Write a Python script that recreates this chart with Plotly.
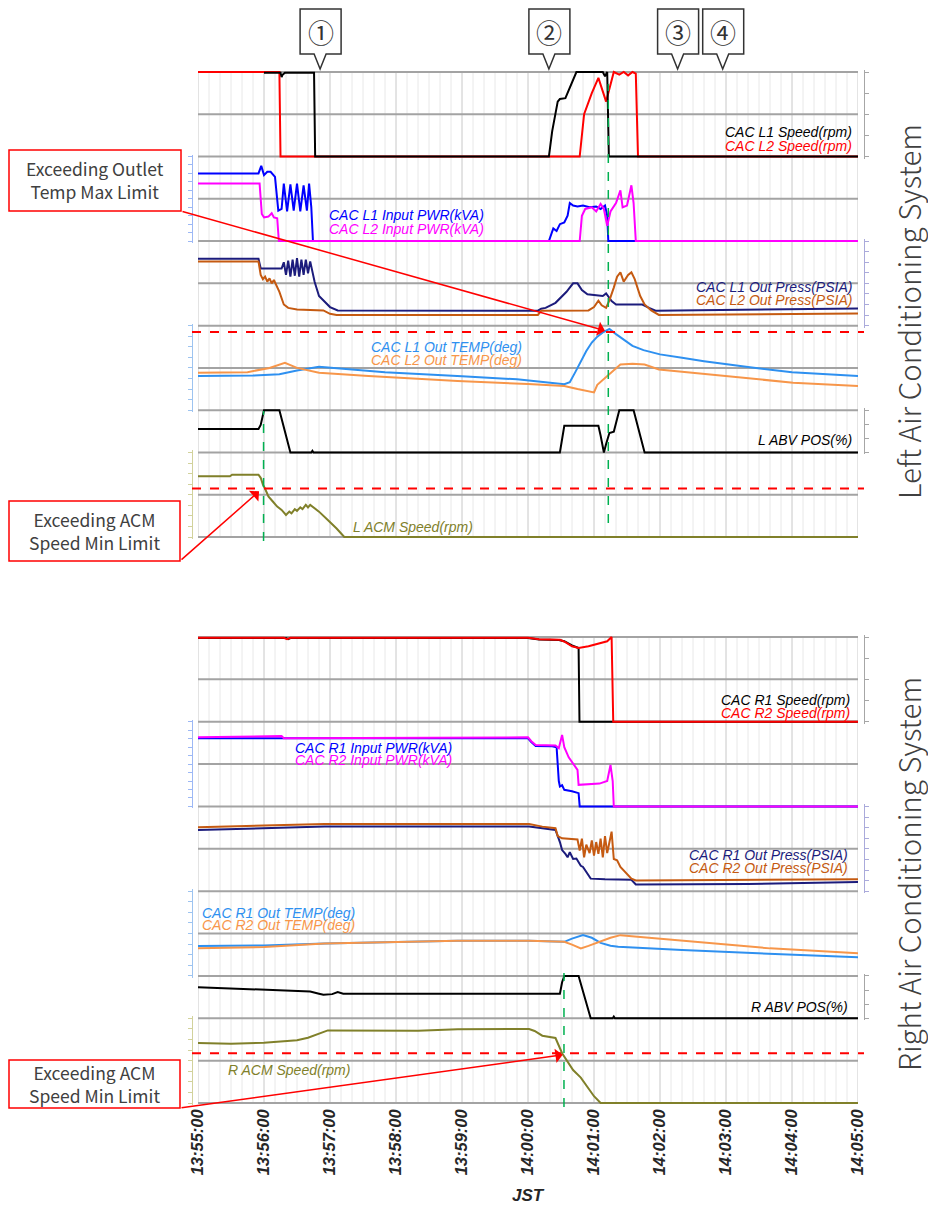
import plotly.graph_objects as go
import pandas as pd

# ---------------- DATA (time = seconds after 13:55:00, value = % of panel scale) ----------------
BASE = pd.Timestamp("2000-01-01 13:55:00")
X_START, X_END = 0, 600

# Left system
L1_SPEED_T = [60, 75, 76, 77, 79, 105.5, 106.5, 319, 322, 325, 327, 329, 334, 344, 368, 370, 372, 373.5, 600]
L1_SPEED_V = [99, 99, 94, 97, 99, 99, 0, 0, 30, 50, 65, 68, 69, 100, 100, 95, 100, 0, 0]
L2_SPEED_T = [0, 74, 75, 347, 351, 358, 364, 371, 378, 383, 387, 391, 395, 398, 400, 600]
L2_SPEED_V = [100, 100, 0, 0, 50, 75, 93, 65, 100, 97, 100, 96, 100, 98, 0, 0]

L1_PWR_T = [0, 55, 57.5, 60, 63, 66, 70, 73, 76, 78, 81, 84, 87, 90, 93, 96, 99, 101, 103, 104.5,
            319, 321, 323, 326, 329, 333, 336, 338, 341, 345, 350, 356, 362, 366, 370, 372, 373, 600]
L1_PWR_V = [80, 80, 89, 78, 82, 82, 76, 36, 38, 68, 35, 67, 36, 68, 35, 66, 36, 68, 40, 0,
            0, 8, 15, 12, 20, 22, 30, 45, 42, 41, 42, 40, 41, 38, 42, 30, 0, 0]
L2_PWR_T = [0, 56, 58, 60, 64, 67, 69, 72, 73.5, 347, 349, 352, 358, 362, 366, 369, 372, 375, 380,
            384, 386, 390, 394, 396, 398, 600]
L2_PWR_V = [68, 68, 32, 28, 29, 33, 28, 27, 0, 0, 30, 38, 40, 35, 44, 38, 18, 35, 45,
            60, 40, 42, 66, 45, 0, 0]

L1_PRESS_T = [0, 55, 57, 76, 78, 80, 82, 84, 86, 88, 90, 92, 94, 96, 98, 100, 102, 104, 106, 110,
              114, 120, 127, 309, 312, 316, 325, 335, 341, 345, 349, 354, 362, 368, 371, 373, 376, 380,
              404, 410, 416, 600]
L1_PRESS_V = [79, 79, 67.5, 67.5, 75, 60, 77, 58, 78, 59, 80, 58, 78, 60, 78, 62, 76, 62, 52, 35,
              30, 22, 18, 17.7, 20, 21, 27, 40, 50, 50, 42, 37, 36, 35, 38, 34, 29, 25,
              25, 21, 17.7, 20.4]
L2_PRESS_T = [0, 55, 57, 59, 61, 63, 65, 67, 69, 71, 74, 78, 82, 90, 114, 120, 126, 309, 312, 355,
              360, 364, 367, 371, 374, 378, 381, 384, 387, 391, 394, 397, 402, 406, 412, 419, 600]
L2_PRESS_V = [75.8, 75.8, 60, 55, 58, 52, 56, 50, 54, 48, 40, 25, 21, 19, 18, 14, 12.6, 12.6, 17.7, 18,
              22, 29.5, 24, 21, 30, 45, 58, 63, 52, 60, 63, 55, 35, 25, 18, 12.6, 14.5]

L1_TEMP_T = [0, 50, 74, 90, 110, 130, 170, 240, 290, 333, 338, 343, 348, 353, 358, 363, 368, 374,
             380, 386, 395, 405, 420, 440, 460, 500, 540, 600]
L1_TEMP_V = [40.4, 41, 42.4, 47, 51.4, 49, 45, 40, 36.5, 30.6, 33, 45, 58, 70, 80, 87, 92, 96,
             90, 84, 76, 71, 66, 62, 58, 51, 45, 40.4]
L2_TEMP_T = [0, 45, 65, 79, 90, 110, 155, 236, 300, 333, 345, 355, 360, 363, 368, 373, 378, 384,
             395, 406, 419, 480, 541, 600]
L2_TEMP_V = [44.3, 45, 50, 56, 50, 44.3, 40.4, 34.5, 31, 28.6, 25, 22, 21, 30, 36, 41, 48, 54,
             55, 54, 48.2, 40.4, 32.5, 28.6]

L_ABV_T = [0, 55, 57, 60, 74, 84, 103, 104, 105, 329, 333, 364, 366, 369, 371, 374, 378, 383, 396, 406, 600]
L_ABV_V = [55.7, 55.7, 65, 100, 100, 0, 0, 4, 0, 0, 63, 63, 40, 0, 20, 46, 49, 100, 100, 0, 0]

L_ACM_T = [0, 29, 31, 55, 57, 59, 61, 64, 68, 72, 76, 80, 83, 85, 88, 90, 93, 95, 98, 100, 102,
           110, 118, 126, 133, 600]
L_ACM_V = [71.8, 71.8, 73.7, 73.7, 70, 62, 57, 48, 42, 36, 32, 26, 30, 28, 33, 31, 35, 33, 38, 35, 38,
           30, 20, 10, 0, 0]

# Right system
R1_SPEED_T = [0, 80, 82, 84, 300, 310, 328, 333, 340, 346, 346.8, 600]
R1_SPEED_V = [98.8, 98.8, 97.5, 98.8, 98.8, 97, 96.5, 95, 90, 87, 0, 0]
R2_SPEED_T = [0, 78, 81, 84, 300, 310, 329, 334, 340, 346, 355, 365, 372, 376, 377.5, 600]
R2_SPEED_V = [99, 99, 97.5, 99, 99, 97.3, 96.8, 94, 89, 87, 89, 92, 95, 100, 0, 0]

R1_PWR_T = [0, 60, 62, 300, 303, 307, 322, 326, 328, 329, 331, 333, 340, 346, 347, 600]
R1_PWR_V = [80.4, 80.4, 81, 80.4, 76, 71.4, 71, 70, 30, 23.5, 25, 19.6, 18, 15.7, 0, 0]
R2_PWR_T = [0, 60, 76, 78, 300, 303, 307, 325, 328, 331, 333, 337, 341, 345, 346, 355, 365, 372,
            375, 377, 378, 600]
R2_PWR_V = [81.6, 82.5, 83, 80.5, 81.6, 77, 72.5, 72, 68.7, 84.4, 70, 58, 51, 43.2, 25.5, 26, 27, 30,
            49, 30, 0, 0]

R1_PRESS_T = [0, 115, 301, 313, 325, 329, 331, 334, 336, 338, 341, 344, 348, 350, 354, 357, 370,
              394, 398, 500, 600]
R1_PRESS_V = [72.3, 76.2, 76.2, 74.3, 72.3, 58, 48.5, 44, 40, 46, 38, 38.6, 30, 28.6, 20, 14.8, 14,
              13.5, 8, 8.5, 10.7]
R2_PRESS_T = [0, 115, 301, 313, 325, 327, 331, 345, 347, 349, 351, 353, 356, 358, 360, 362, 364, 366,
              368, 370, 372, 374, 376, 378, 381, 384, 390, 394, 398, 500, 600]
R2_PRESS_V = [75.5, 79.4, 79.4, 76.2, 74.3, 65, 62.4, 61, 48, 62, 40, 55, 45, 60, 42, 58, 44, 62,
              40, 65, 45, 60, 70.2, 38, 36.5, 28.6, 20, 14.8, 12.7, 13, 14]

R1_TEMP_T = [0, 60, 115, 236, 301, 333, 340, 350, 358, 366, 375, 382, 440, 520, 600]
R1_TEMP_V = [35.2, 36, 38.3, 41.4, 41.4, 40.2, 44, 48.1, 45, 39, 35.5, 34.4, 30.5, 26.6, 21.9]
R2_TEMP_T = [0, 60, 115, 236, 301, 333, 340, 348, 355, 365, 375, 384, 419, 460, 520, 600]
R2_TEMP_V = [32.5, 34, 38.3, 41.4, 41.4, 40.2, 37, 32.5, 35.5, 40, 45, 48.1, 44.2, 40, 32.5, 26.6]

R_ABV_T = [0, 74, 102, 110, 114, 122, 127, 132, 329, 331, 333, 346, 357, 377, 378, 379, 600]
R_ABV_V = [73.5, 67.2, 63.2, 58, 55.5, 57, 61.8, 57.8, 57.8, 85, 100, 100, 0, 0, 4, 0, 0]

R_ACM_T = [0, 30, 60, 74, 90, 100, 118, 200, 236, 301, 306, 313, 325, 331, 341, 348, 354, 360, 366, 600]
R_ACM_V = [70.7, 70, 71, 72.6, 74, 77, 85.7, 85.4, 87, 87.4, 85, 79.4, 76.7, 58.8, 38.9, 30, 19, 8, 0, 0]

# Limits (panel %), event markers and callouts
L_TEMP_MAX_LIMIT = 92.6
L_ACM_MIN_LIMIT = 57.3
R_ACM_MIN_LIMIT = 58.8
EVENT_LABELS = ["①", "②", "③", "④"]
EVENT_TIMES = [111, 319, 436, 477]
LEFT_MARK_TIMES = [59.6, 373]
RIGHT_MARK_TIME = 332.7
ARROW_TIPS = [(370, 94), (55.5, 54), (331.5, 56.8)]   # (time, value)
BOX_TEXTS = ["Exceeding Outlet<br>Temp Max Limit", "Exceeding ACM<br>Speed Min Limit",
             "Exceeding ACM<br>Speed Min Limit"]
TICK_LABEL_FMT = "%H:%M:%S"
X_TITLE = "JST"
GROUP_TITLES = ["Left Air Conditioning System", "Right Air Conditioning System"]


def T(secs):
    return [(BASE + pd.Timedelta(seconds=s)).strftime("%Y-%m-%d %H:%M:%S.%f")[:-3] for s in secs]


# ---------------- STYLE / LAYOUT ----------------
BLACK, RED = "#000000", "#ff0000"
BLUE, MAGENTA = "#0000ff", "#ff00ff"
NAVY, BROWN = "#1c1c7c", "#c55a11"
SKY, ORANGE = "#2e90f0", "#f7964a"
OLIVE = "#80802a"
GREEN = "#00b050"

OFF = 8                      # page body margin of the html
W, H = 936 - 2 * OFF, 1213 - 2 * OFF
PL, PR = 192, 864            # page px of the plot area
PT, PB = 70, 1105
X0PX, X1PX = 198, 858
GROUP_TOP = [72, 637]
GROUP_BOT = [537, 1103]
PAD = 2


def pxx(px):
    return (px - PL) / (PR - PL)


def pxy(py):
    return (PB - py) / (PB - PT)


def line_y(g, k):
    return GROUP_TOP[g] + k * (GROUP_BOT[g] - GROUP_TOP[g]) / 11.0


PANELS = [
    (0, 0, 2, "right", "#a6a6a6", 4, [(L2_SPEED_T, L2_SPEED_V, RED), (L1_SPEED_T, L1_SPEED_V, BLACK)]),
    (0, 2, 4, "left", "#9db8f5", 10, [(L1_PWR_T, L1_PWR_V, BLUE), (L2_PWR_T, L2_PWR_V, MAGENTA)]),
    (0, 4, 6, "right", "#aaaadb", 8, [(L1_PRESS_T, L1_PRESS_V, NAVY), (L2_PRESS_T, L2_PRESS_V, BROWN)]),
    (0, 6, 8, "left", "#9ec4f0", 8, [(L1_TEMP_T, L1_TEMP_V, SKY), (L2_TEMP_T, L2_TEMP_V, ORANGE)]),
    (0, 8, 9, "right", "#a6a6a6", 3, [(L_ABV_T, L_ABV_V, BLACK)]),
    (0, 9, 11, "left", "#d2d29c", 8, [(L_ACM_T, L_ACM_V, OLIVE)]),
    (1, 0, 2, "right", "#a6a6a6", 4, [(R1_SPEED_T, R1_SPEED_V, BLACK), (R2_SPEED_T, R2_SPEED_V, RED)]),
    (1, 2, 4, "left", "#9db8f5", 10, [(R1_PWR_T, R1_PWR_V, BLUE), (R2_PWR_T, R2_PWR_V, MAGENTA)]),
    (1, 4, 6, "right", "#aaaadb", 8, [(R1_PRESS_T, R1_PRESS_V, NAVY), (R2_PRESS_T, R2_PRESS_V, BROWN)]),
    (1, 6, 8, "left", "#9ec4f0", 8, [(R1_TEMP_T, R1_TEMP_V, SKY), (R2_TEMP_T, R2_TEMP_V, ORANGE)]),
    (1, 8, 9, "right", "#a6a6a6", 3, [(R_ABV_T, R_ABV_V, BLACK)]),
    (1, 9, 11, "left", "#d2d29c", 8, [(R_ACM_T, R_ACM_V, OLIVE)]),
]

fig = go.Figure()
layout = dict(
    width=W, height=H, template="none",
    margin=dict(l=PL - OFF, r=W - (PR - OFF), t=PT - OFF, b=H - (PB - OFF), pad=0),
    paper_bgcolor="white", plot_bgcolor="rgba(0,0,0,0)",
    font=dict(family="Liberation Sans", color="#222222"),
    showlegend=False,
)

x_dom = [pxx(X0PX), pxx(X1PX)]
layout["xaxis"] = dict(
    type="date", domain=x_dom, anchor="y12",
    range=T([X_START, X_END]), tick0=T([0])[0], dtick=60000,
    tickformat=TICK_LABEL_FMT, tickangle=-90,
    tickfont=dict(family="Liberation Sans", size=16.5, color="#262626", style="italic", weight="bold"),
    showgrid=False, showline=False, zeroline=False, ticks="", automargin=False, fixedrange=True,
)

panel_geo = []
for i, (g, k0, k1, side, acol, nint, series) in enumerate(PANELS, start=1):
    top, bot = line_y(g, k0), line_y(g, k1)
    h = bot - top
    panel_geo.append((top, bot, h))
    name = "yaxis" if i == 1 else "yaxis%d" % i
    layout[name] = dict(
        domain=[pxy(bot + PAD), pxy(top - PAD)],
        range=[-PAD / h * 100, 100 + PAD / h * 100],
        anchor="free", position=0 if side == "left" else 1, side=side,
        showline=True, linecolor=acol, linewidth=1,
        ticks="outside", ticklen=4, tickwidth=1, tickcolor=acol,
        tickmode="linear", tick0=0, dtick=100.0 / nint,
        showticklabels=False, showgrid=False, zeroline=False,
        automargin=False, fixedrange=True,
    )
    for (ts, vs, col) in series:
        fig.add_trace(go.Scatter(
            x=T(ts), y=vs, mode="lines", line=dict(color=col, width=2),
            xaxis="x", yaxis="y" if i == 1 else "y%d" % i, hoverinfo="skip", showlegend=False))

shapes = []
# vertical time grid (10 s minor, 1 min major), drawn under everything
for g in (0, 1):
    for s in range(X_START, X_END + 1, 10):
        xt = T([s])[0]
        major = (s % 60 == 0)
        shapes.append(dict(type="line", xref="x", yref="paper", x0=xt, x1=xt,
                           y0=pxy(GROUP_BOT[g]), y1=pxy(GROUP_TOP[g]),
                           line=dict(color="#c8c8c8" if major else "#e8e8e8", width=1), layer="below"))
# horizontal panel grid lines
for g in (0, 1):
    for k in range(12):
        yy = pxy(line_y(g, k))
        shapes.append(dict(type="line", xref="paper", yref="paper", x0=x_dom[0], x1=x_dom[1],
                           y0=yy, y1=yy, line=dict(color="#a3a3a3", width=2), layer="below"))

# limit lines
for axid, lim in (("y4", L_TEMP_MAX_LIMIT), ("y6", L_ACM_MIN_LIMIT), ("y12", R_ACM_MIN_LIMIT)):
    shapes.append(dict(type="line", xref="paper", yref=axid, x0=0, x1=1, y0=lim, y1=lim,
                       line=dict(color=RED, width=2, dash="dash")))

# green event markers
green_spans = [(LEFT_MARK_TIMES[0], 411, 541), (LEFT_MARK_TIMES[1], 84, 523), (RIGHT_MARK_TIME, 973, 1107)]
for t, ya, yb in green_spans:
    xt = T([t])[0]
    shapes.append(dict(type="line", xref="x", yref="paper", x0=xt, x1=xt, y0=pxy(yb), y1=pxy(ya),
                       line=dict(color=GREEN, width=1.5, dash="dash")))

# numbered callouts above the chart
annotations = []
for lab, t in zip(EVENT_LABELS, EVENT_TIMES):
    xt = T([t])[0]
    shapes.append(dict(type="path", xref="x", yref="paper", xsizemode="pixel", ysizemode="pixel",
                       xanchor=xt, yanchor=pxy(69),
                       path="M -20,60 L 21,60 L 21,15 L 6,15 L 0,0 L -6,15 L -20,15 Z",
                       line=dict(color="#333333", width=1.5), fillcolor="white"))
    annotations.append(dict(text=lab, x=xt, y=pxy(31.5), xref="x", yref="paper", showarrow=False,
                            xshift=0.5, font=dict(family="Noto Sans CJK JP", size=26, color="#333333"),
                            xanchor="center", yanchor="middle"))

# red annotation boxes with arrows
BOXES = [(9, 150, 181, 211), (9, 501, 180, 561), (9, 1060, 180, 1108)]
TIP_AXES = [("y4", 3), ("y6", 5), ("y12", 11)]
for (bx0, by0, bx1, by1), txt, (tt, tv), (axid, pidx) in zip(BOXES, BOX_TEXTS, ARROW_TIPS, TIP_AXES):
    shapes.append(dict(type="rect", xref="paper", yref="paper", x0=pxx(bx0), x1=pxx(bx1),
                       y0=pxy(by1), y1=pxy(by0), line=dict(color=RED, width=1.5), fillcolor="white",
                       layer="above"))
    annotations.append(dict(text=txt, x=pxx((bx0 + bx1) / 2), y=pxy((by0 + by1) / 2), xref="paper",
                            yref="paper", showarrow=False, align="center", xanchor="center",
                            yanchor="middle",
                            font=dict(family="Noto Sans CJK JP", size=17.5, color="#404040")))
    top, bot, h = panel_geo[pidx]
    tip_px = X0PX + (tt - X_START) / (X_END - X_START) * (X1PX - X0PX)
    tip_py = bot - tv / 100.0 * h
    annotations.append(dict(text="", x=T([tt])[0], y=tv, xref="x", yref=axid, showarrow=True,
                            axref="pixel", ayref="pixel", ax=bx1 - tip_px, ay=by1 - tip_py,
                            arrowhead=1, arrowsize=1.6, arrowwidth=1.5, arrowcolor=RED))

# in-panel series labels
LABELS = [
    ("CAC L1 Speed(rpm)", BLACK, "right", 854, 132), ("CAC L2 Speed(rpm)", RED, "right", 854, 146),
    ("CAC L1 Input PWR(kVA)", BLUE, "left", 327, 215), ("CAC L2 Input PWR(kVA)", MAGENTA, "left", 327, 229),
    ("CAC L1 Out Press(PSIA)", NAVY, "right", 854, 287), ("CAC L2 Out Press(PSIA)", BROWN, "right", 854, 300),
    ("CAC L1 Out TEMP(deg)", SKY, "left", 369, 347), ("CAC L2 Out TEMP(deg)", ORANGE, "left", 369, 360),
    ("L ABV POS(%)", BLACK, "right", 854, 440), ("L ACM Speed(rpm)", OLIVE, "left", 351, 527),
    ("CAC R1 Speed(rpm)", BLACK, "right", 852, 700), ("CAC R2 Speed(rpm)", RED, "right", 852, 713),
    ("CAC R1 Input PWR(kVA)", BLUE, "left", 293, 748), ("CAC R2 Input PWR(kVA)", MAGENTA, "left", 293, 760),
    ("CAC R1 Out Press(PSIA)", NAVY, "right", 850, 855), ("CAC R2 Out Press(PSIA)", BROWN, "right", 850, 868),
    ("CAC R1 Out TEMP(deg)", SKY, "left", 200, 913), ("CAC R2 Out TEMP(deg)", ORANGE, "left", 200, 925),
    ("R ABV POS(%)", BLACK, "right", 850, 1007), ("R ACM Speed(rpm)", OLIVE, "left", 226, 1070),
]
for txt, col, anc, lx, ly in LABELS:
    annotations.append(dict(text=txt, x=pxx(lx), y=pxy(ly), xref="paper", yref="paper", showarrow=False,
                            xanchor=anc, yanchor="middle",
                            font=dict(family="Liberation Sans", size=14, color=col, style="italic")))

# group titles on the right
for title, cy in zip(GROUP_TITLES, (312, 874)):
    annotations.append(dict(text=title, x=pxx(908), y=pxy(cy), xref="paper", yref="paper",
                            showarrow=False, textangle=-90, xanchor="center", yanchor="middle",
                            font=dict(family="Noto Sans CJK JP", size=29.5, color="#404040", weight=300)))

# x-axis title
annotations.append(dict(text=X_TITLE, x=pxx(528), y=pxy(1195), xref="paper", yref="paper", showarrow=False,
                        xanchor="center", yanchor="middle",
                        font=dict(family="Liberation Sans", size=17, color="#262626", style="italic",
                                  weight="bold")))

layout["shapes"] = shapes
layout["annotations"] = annotations
fig.update_layout(**layout)
fig.write_html("out.html")
